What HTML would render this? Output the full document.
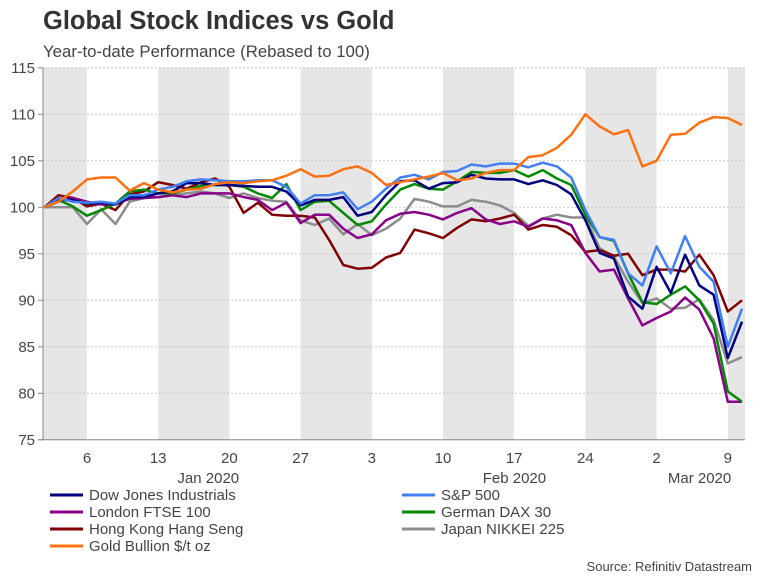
<!DOCTYPE html>
<html><head><meta charset="utf-8"><style>
body{margin:0;background:#fff;font-family:"Liberation Sans",sans-serif}
svg text{font-family:"Liberation Sans",sans-serif}
</style></head><body>
<svg id="chart" width="768" height="576" xmlns="http://www.w3.org/2000/svg">
<text x="43" y="29" font-size="25.5" font-weight="bold" fill="#333">Global Stock Indices vs Gold</text>
<text x="43" y="57" font-size="16.8" fill="#444">Year-to-date Performance (Rebased to 100)</text>
<g id="bands"></g><g id="grid"></g><g id="axes"></g><g id="series"></g><g id="legend"></g>
<text x="752" y="571" font-size="13" fill="#444" text-anchor="end">Source: Refinitiv Datastream</text>
</svg>
<script>
const startIdx = -3;
const yTicks = [75,80,85,90,95,100,105,110,115];
const weekIdx = [0,5,10,15,20,25,30,35,40,45];
const weekLabels = ["6","13","20","27","3","10","17","24","2","9"];
const monthLabels = ["Jan 2020","Feb 2020","Mar 2020"];
const monthIdx = [9.5,31,44];
const seriesNames = ["Dow Jones Industrials","S&P 500","London FTSE 100","German DAX 30","Hong Kong Hang Seng","Japan NIKKEI 225","Gold Bullion $/t oz"];
const seriesColors = ["#00007f","#4080f0","#880088","#008800","#800000","#8c8c8c","#ff7010"];
const dow = [100,100.8,100.8,100.4,100.5,100.3,101.1,101.1,101.5,101.7,102.6,102.6,102.4,102.4,102.3,102.2,102.2,101.7,100.2,100.8,100.8,101.1,99.1,99.5,101.3,102.8,102.9,102,102.6,102.7,103.5,103.1,103,103,102.5,102.9,102.4,101.4,98.6,95.1,94.5,90.4,89.1,93.6,90.8,94.9,91.6,90.6,83.8,87.7];
const spx = [100,101,100.6,100.5,100.6,100.4,101.3,101.3,101.9,102.2,102.8,103,102.9,102.8,102.8,102.9,102.9,102.2,100.4,101.3,101.3,101.6,99.8,100.6,102,103.2,103.5,103,103.8,103.9,104.6,104.4,104.7,104.7,104.3,104.8,104.4,103.2,99.7,96.8,96.5,92.9,91.6,95.8,92.9,96.9,93.6,92,85,89.1];
const ftse = [100,100.6,101,100.6,100.3,100.4,100.9,101,101.1,101.3,101.1,101.5,101.5,101.5,101.1,100.8,99.7,100.5,98.3,99.2,99.2,97.7,96.7,97.1,98.6,99.3,99.5,99.2,98.7,99.4,99.9,98.7,98.2,98.5,97.9,98.8,98.6,98.1,95.1,93.1,93.3,90.2,87.3,88.1,88.8,90.3,89,85.9,79.1,79.1];
const dax = [100,100.8,100.1,99.1,99.7,100.4,101.7,101.9,101.5,101.5,101.9,102.3,102.4,102.4,102.2,101.5,101,102.5,99.7,100.6,100.7,99.4,98.1,98.5,100.3,101.9,102.5,102,101.9,102.8,103.8,103.7,103.7,104,103.3,104,103.1,102.4,99.2,96.8,96.4,92.9,89.8,89.6,90.6,91.5,90,87.5,80.2,79.1];
const hsi = [100,101.3,101,100.1,100.4,99.7,101.4,101.7,102.7,102.4,102,102.7,103.1,102.2,99.4,100.5,99.2,99.1,99.1,98.9,96.5,93.8,93.4,93.5,94.6,95.1,97.6,97.2,96.7,97.8,98.7,98.5,98.8,99.2,97.6,98.1,97.9,97,95.2,95.4,94.8,95,92.7,93.3,93.3,93.1,94.9,92.7,88.8,90];
const nikkei = [100,100,100,98.2,99.8,98.2,100.6,101,101.1,101.3,101.5,101.7,101.5,101,101.5,101,100.7,100.6,98.6,98.1,98.8,97.1,98.2,97,97.7,98.8,100.9,100.6,100.1,100.1,100.8,100.6,100.2,99.4,98,98.8,99.2,98.9,98.9,95.6,94.7,92,89.7,90.2,89.1,89.2,90.1,87.9,83.2,83.9];
const gold = [100,100.6,101.7,103,103.2,103.2,101.8,102.6,101.9,101.6,101.9,102,102.5,102.7,102.6,102.8,102.9,103.4,104.1,103.3,103.4,104.1,104.4,103.7,102.4,102.7,103,103.3,103.7,102.9,103.1,103.7,104,104,105.4,105.6,106.4,107.8,110,108.7,107.85,108.3,104.4,105,107.8,107.9,109.1,109.7,109.6,108.85];
const allSeries = [dow,spx,ftse,dax,hsi,nikkei,gold];

const NS="http://www.w3.org/2000/svg";
const L=43,R=745;
const xS=i=>87+i*14.24;
const yS=v=>207.3-(v-100)*9.3;
function mk(tag,attrs,parent){const e=document.createElementNS(NS,tag);for(const k in attrs)e.setAttribute(k,attrs[k]);parent.appendChild(e);return e;}
const gB=document.getElementById('bands'),gG=document.getElementById('grid'),gA=document.getElementById('axes'),gS=document.getElementById('series'),gL=document.getElementById('legend');
const bandEdges=[[null,0],[5,10],[15,20],[25,30],[35,40],[45,null]];
bandEdges.forEach(b=>{
  const x0=b[0]===null?L:xS(b[0]);const x1=b[1]===null?R:xS(b[1]);
  const r=mk('rect',{x:x0,y:yS(115),width:x1-x0,height:yS(75)-yS(115),fill:'#e6e6e6'},gB);
  
  
});
yTicks.forEach(t=>{
  if(t>75){const l=mk('line',{x1:L,x2:R,y1:yS(t),y2:yS(t),stroke:'#c8c8c8','stroke-dasharray':'2,2','stroke-width':1},gG);
  
  }
  const tk=mk('line',{x1:L-5,x2:L,y1:yS(t),y2:yS(t),stroke:'#888'},gA);
  
  
  const tx=mk('text',{x:35,y:yS(t)+5,'font-size':15,fill:'#444','text-anchor':'end'},gA);tx.textContent=t;
  
  
});
const ax=mk('line',{x1:L,x2:L,y1:yS(115),y2:yS(75),stroke:'#888'},gA);


const xa=mk('line',{x1:L-5,x2:R,y1:yS(75),y2:yS(75),stroke:'#888'},gA);


weekIdx.forEach((w,k)=>{
  const tx=mk('text',{x:xS(w),y:463,'font-size':15,fill:'#444','text-anchor':'middle'},gA);tx.textContent=weekLabels[k];
  
  
});
monthIdx.forEach((m,k)=>{
  const tx=mk('text',{x:xS(m)-14,y:483,'font-size':15,fill:'#444','text-anchor':'middle'},gA);tx.textContent=monthLabels[k];
  
  
});
const order=[5,4,2,3,0,1,6];
order.forEach(s=>{
  const pts=allSeries[s].map((v,i)=>xS(startIdx+i).toFixed(1)+','+yS(v).toFixed(1)).join(' ');
  const p=mk('polyline',{points:pts,fill:'none',stroke:seriesColors[s],'stroke-width':2.5,'stroke-linejoin':'round'},gS);
  
  
});
const legPos=[[50,495],[402,495],[50,512],[402,512],[50,529],[402,529],[50,546]];
seriesNames.forEach((n,s)=>{
  const [lx,ly]=legPos[s];
  const g=mk('g',{},gL);
  
  
  mk('line',{x1:lx,x2:lx+33,y1:ly,y2:ly,stroke:seriesColors[s],'stroke-width':3},g);
  const t=mk('text',{x:lx+39,y:ly+5,'font-size':15,fill:'#444'},g);t.textContent=n;
});
</script>
</body></html>
